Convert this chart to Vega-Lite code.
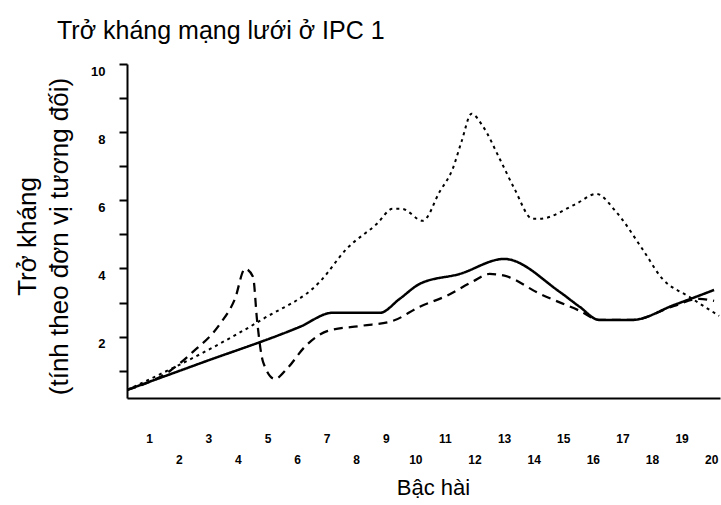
{
  "$schema": "https://vega.github.io/schema/vega-lite/v6.json",
  "width": 593,
  "height": 334,
  "autosize": {"type": "none"},
  "padding": {"left": 127, "top": 64, "right": 1, "bottom": 107},
  "background": "white",
  "config": {"view": {"stroke": null}, "font": "Liberation Sans"},
  "title": {
    "text": "Trở kháng mạng lưới ở IPC 1",
    "anchor": "start",
    "frame": "group",
    "dx": -70,
    "dy": 32,
    "offset": 31,
    "baseline": "alphabetic",
    "fontSize": 25,
    "fontWeight": "normal",
    "color": "black",
    "font": "Liberation Sans"
  },
  "data": {
    "values": [
      {"curve": "A", "harmonic": 0.26, "impedance": 0.44},
      {"curve": "A", "harmonic": 2.7, "impedance": 1.21},
      {"curve": "A", "harmonic": 6.1, "impedance": 2.29},
      {"curve": "A", "harmonic": 7.2, "impedance": 2.7},
      {"curve": "A", "harmonic": 8.8, "impedance": 2.7},
      {"curve": "A", "harmonic": 9.47, "impedance": 3.11},
      {"curve": "A", "harmonic": 10.15, "impedance": 3.55},
      {"curve": "A", "harmonic": 11.5, "impedance": 3.84},
      {"curve": "A", "harmonic": 13.0, "impedance": 4.28},
      {"curve": "A", "harmonic": 14.87, "impedance": 3.32},
      {"curve": "A", "harmonic": 15.55, "impedance": 2.88},
      {"curve": "A", "harmonic": 16.22, "impedance": 2.49},
      {"curve": "A", "harmonic": 17.33, "impedance": 2.49},
      {"curve": "A", "harmonic": 18.75, "impedance": 2.93},
      {"curve": "A", "harmonic": 20.1, "impedance": 3.37},

      {"curve": "B", "harmonic": 0.26, "impedance": 0.44},
      {"curve": "B", "harmonic": 1.71, "impedance": 1.0},
      {"curve": "B", "harmonic": 2.45, "impedance": 1.53},
      {"curve": "B", "harmonic": 3.4, "impedance": 2.38},
      {"curve": "B", "harmonic": 3.9, "impedance": 3.11},
      {"curve": "B", "harmonic": 4.24, "impedance": 3.99},
      {"curve": "B", "harmonic": 4.51, "impedance": 3.76},
      {"curve": "B", "harmonic": 4.65, "impedance": 2.46},
      {"curve": "B", "harmonic": 4.85, "impedance": 1.26},
      {"curve": "B", "harmonic": 5.25, "impedance": 0.76},
      {"curve": "B", "harmonic": 5.66, "impedance": 1.06},
      {"curve": "B", "harmonic": 6.26, "impedance": 1.7},
      {"curve": "B", "harmonic": 7.04, "impedance": 2.17},
      {"curve": "B", "harmonic": 8.19, "impedance": 2.32},
      {"curve": "B", "harmonic": 9.23, "impedance": 2.46},
      {"curve": "B", "harmonic": 10.15, "impedance": 2.88},
      {"curve": "B", "harmonic": 11.06, "impedance": 3.2},
      {"curve": "B", "harmonic": 11.93, "impedance": 3.61},
      {"curve": "B", "harmonic": 12.51, "impedance": 3.84},
      {"curve": "B", "harmonic": 13.01, "impedance": 3.79},
      {"curve": "B", "harmonic": 14.2, "impedance": 3.26},
      {"curve": "B", "harmonic": 15.55, "impedance": 2.76},
      {"curve": "B", "harmonic": 16.22, "impedance": 2.49},
      {"curve": "B", "harmonic": 17.33, "impedance": 2.49},
      {"curve": "B", "harmonic": 18.75, "impedance": 2.9},
      {"curve": "B", "harmonic": 19.6, "impedance": 3.11},
      {"curve": "B", "harmonic": 20.1, "impedance": 3.05},

      {"curve": "C", "harmonic": 0.26, "impedance": 0.44},
      {"curve": "C", "harmonic": 3.06, "impedance": 1.64},
      {"curve": "C", "harmonic": 4.85, "impedance": 2.52},
      {"curve": "C", "harmonic": 6.77, "impedance": 3.61},
      {"curve": "C", "harmonic": 7.68, "impedance": 4.58},
      {"curve": "C", "harmonic": 8.7, "impedance": 5.31},
      {"curve": "C", "harmonic": 9.23, "impedance": 5.75},
      {"curve": "C", "harmonic": 9.54, "impedance": 5.75},
      {"curve": "C", "harmonic": 10.25, "impedance": 5.4},
      {"curve": "C", "harmonic": 10.82, "impedance": 6.25},
      {"curve": "C", "harmonic": 11.26, "impedance": 6.92},
      {"curve": "C", "harmonic": 11.56, "impedance": 7.72},
      {"curve": "C", "harmonic": 11.9, "impedance": 8.54},
      {"curve": "C", "harmonic": 12.27, "impedance": 8.19},
      {"curve": "C", "harmonic": 12.85, "impedance": 7.22},
      {"curve": "C", "harmonic": 13.35, "impedance": 6.34},
      {"curve": "C", "harmonic": 13.96, "impedance": 5.46},
      {"curve": "C", "harmonic": 14.2, "impedance": 5.46},
      {"curve": "C", "harmonic": 15.44, "impedance": 5.9},
      {"curve": "C", "harmonic": 16.12, "impedance": 6.19},
      {"curve": "C", "harmonic": 16.79, "impedance": 5.66},
      {"curve": "C", "harmonic": 17.67, "impedance": 4.58},
      {"curve": "C", "harmonic": 18.35, "impedance": 3.7},
      {"curve": "C", "harmonic": 19.26, "impedance": 3.17},
      {"curve": "C", "harmonic": 20.27, "impedance": 2.61}
    ]
  },
  "mark": {"type": "line", "interpolate": "monotone", "color": "black", "strokeCap": "butt"},
  "encoding": {
    "x": {
      "field": "harmonic",
      "type": "quantitative",
      "scale": {"domain": [0.25, 20.3], "nice": false, "zero": false},
      "axis": {
        "values": [1, 2, 3, 4, 5, 6, 7, 8, 9, 10, 11, 12, 13, 14, 15, 16, 17, 18, 19, 20],
        "title": "Bậc hài",
        "ticks": false,
        "tickSize": 0,
        "grid": false,
        "domainColor": "black",
        "domainWidth": 2,
        "labelFont": "Liberation Sans",
        "labelFontWeight": "bold",
        "labelFontSize": 12,
        "labelColor": "black",
        "labelBaseline": "middle",
        "labelPadding": {"condition": {"test": "datum.value % 2 === 0", "value": 61}, "value": 40},
        "labelFlush": false,
        "labelOverlap": false,
        "titleFont": "Liberation Sans",
        "titleFontSize": 22,
        "titleFontWeight": "normal",
        "titleColor": "black",
        "titleX": 306,
        "titleY": 89,
        "titleAlign": "center",
        "titleBaseline": "middle"
      }
    },
    "y": {
      "field": "impedance",
      "type": "quantitative",
      "scale": {"domain": [0.2, 10], "nice": false, "zero": false},
      "axis": {
        "values": [1, 2, 3, 4, 5, 6, 7, 8, 9, 10],
        "labelExpr": "datum.value % 2 === 0 ? datum.label : ''",
        "title": ["Trở kháng", "(tính theo đơn vị tương đối)"],
        "grid": false,
        "tickSize": 8,
        "tickWidth": 2,
        "tickColor": "black",
        "domainColor": "black",
        "domainWidth": 2,
        "labelFont": "Liberation Sans",
        "labelFontWeight": "bold",
        "labelFontSize": 13,
        "labelColor": "black",
        "labelPadding": 14,
        "labelOffset": 7,
        "titleFont": "Liberation Sans",
        "titleFontSize": 26,
        "titleFontWeight": "normal",
        "titleColor": "black",
        "titleAngle": 270,
        "titleX": -100,
        "titleY": 172,
        "titleAlign": "center",
        "titleBaseline": "middle",
        "titleLineHeight": 32
      }
    },
    "strokeDash": {
      "field": "curve",
      "type": "nominal",
      "scale": {"domain": ["A", "B", "C"], "range": [[1, 0], [9, 6], [3, 4]]},
      "legend": null
    },
    "strokeWidth": {
      "field": "curve",
      "type": "nominal",
      "scale": {"domain": ["A", "B", "C"], "range": [2.5, 2, 2]},
      "legend": null
    }
  }
}
